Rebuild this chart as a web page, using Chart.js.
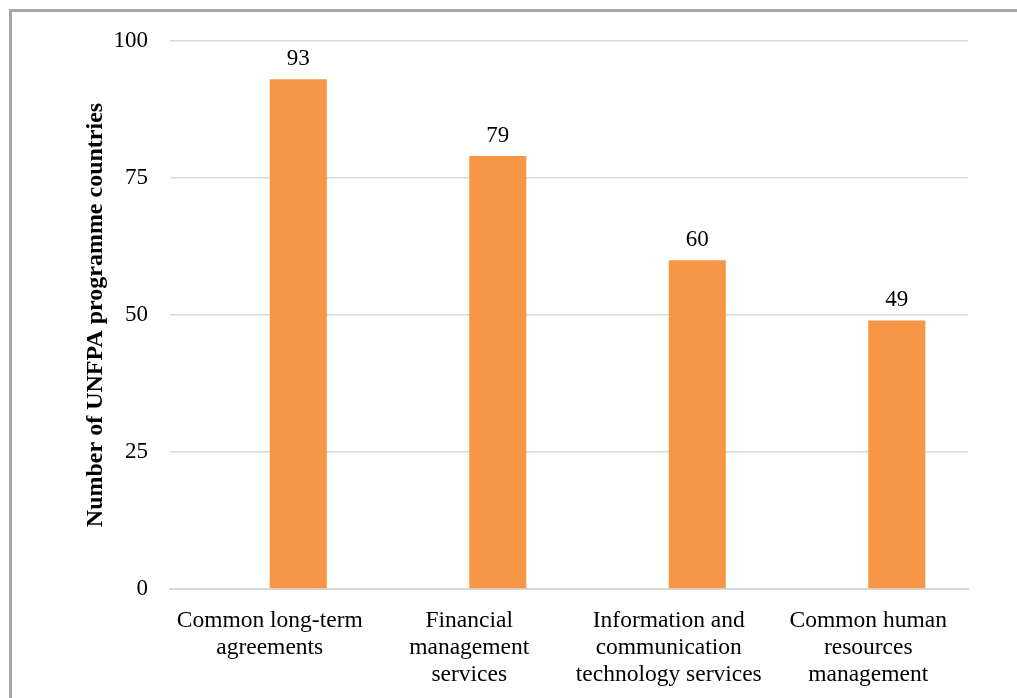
<!DOCTYPE html>
<html>
<head>
<meta charset="utf-8">
<title>UNFPA programme countries</title>
<script src="https://cdn.jsdelivr.net/npm/chart.js@4.4.1/dist/chart.umd.min.js"></script>
<style>
  html, body { margin: 0; padding: 0; background: #fff; overflow: hidden; }
  #frame {
    position: absolute; left: 9px; top: 9px;
    width: 2000px; height: 2000px;
    border-top: 3px solid #a6a6a6; border-left: 3px solid #a6a6a6;
  }
  #chart { position: absolute; left: 0; top: 0; }
</style>
</head>
<body>
<div id="frame"></div>
<canvas id="chart" width="1017" height="698"></canvas>
<script>
// categories and values
const categories = [
  ['Common long-term', 'agreements'],
  ['Financial', 'management', 'services'],
  ['Information and', 'communication', 'technology services'],
  ['Common human', 'resources', 'management']
];
const countries = [93, 79, 60, 49];
const yTicks = [0, 25, 50, 75, 100];

const serif = "'Liberation Serif', 'Times New Roman', serif";

// value labels above the orange bars
const barLabels = {
  id: 'barLabels',
  afterDatasetsDraw(chart) {
    const ctx = chart.ctx;
    const meta = chart.getDatasetMeta(1);
    ctx.save();
    ctx.font = '23px ' + serif;
    ctx.fillStyle = '#000';
    ctx.textAlign = 'center';
    ctx.textBaseline = 'bottom';
    meta.data.forEach((bar, i) => {
      ctx.fillText(String(countries[i]), bar.x, bar.y - 9);
    });
    ctx.restore();
  }
};

new Chart(document.getElementById('chart').getContext('2d'), {
  type: 'bar',
  data: {
    labels: categories,
    datasets: [
      // empty first slot keeps the bar to the right of the category centre
      { label: '', data: categories.map(() => null), backgroundColor: 'transparent' },
      {
        label: 'Countries',
        data: countries,
        backgroundColor: '#F79646'
      }
    ]
  },
  options: {
    responsive: false,
    animation: false,
    datasets: { bar: { barPercentage: 1, categoryPercentage: 0.572 } },
    layout: { padding: { top: 41, right: 49, bottom: 0, left: 0 } },
    plugins: { legend: { display: false }, tooltip: { enabled: false } },
    scales: {
      x: {
        grid: { display: false },
        border: { color: '#d9d9d9', width: 2 },
        ticks: {
          color: '#000',
          font: { family: serif, size: 23.5, lineHeight: 1.15 },
          padding: 10,
          maxRotation: 0,
          autoSkip: false
        },
        afterFit(scale) { scale.height = 109; }
      },
      y: {
        min: 0,
        max: 100,
        afterBuildTicks(scale) { scale.ticks = yTicks.map(v => ({ value: v })); },
        grid: { color: '#d9d9d9', lineWidth: 1.5, drawTicks: false },
        border: { display: false },
        ticks: {
          color: '#000',
          font: { family: serif, size: 23 },
          padding: 22
        },
        title: {
          display: true,
          text: 'Number of UNFPA programme countries',
          color: '#000',
          font: { family: serif, size: 24, weight: 'bold' },
          padding: { top: 81, bottom: 0 }
        },
        afterFit(scale) { scale.width = 170; }
      }
    }
  },
  plugins: [barLabels]
});
</script>
</body>
</html>
